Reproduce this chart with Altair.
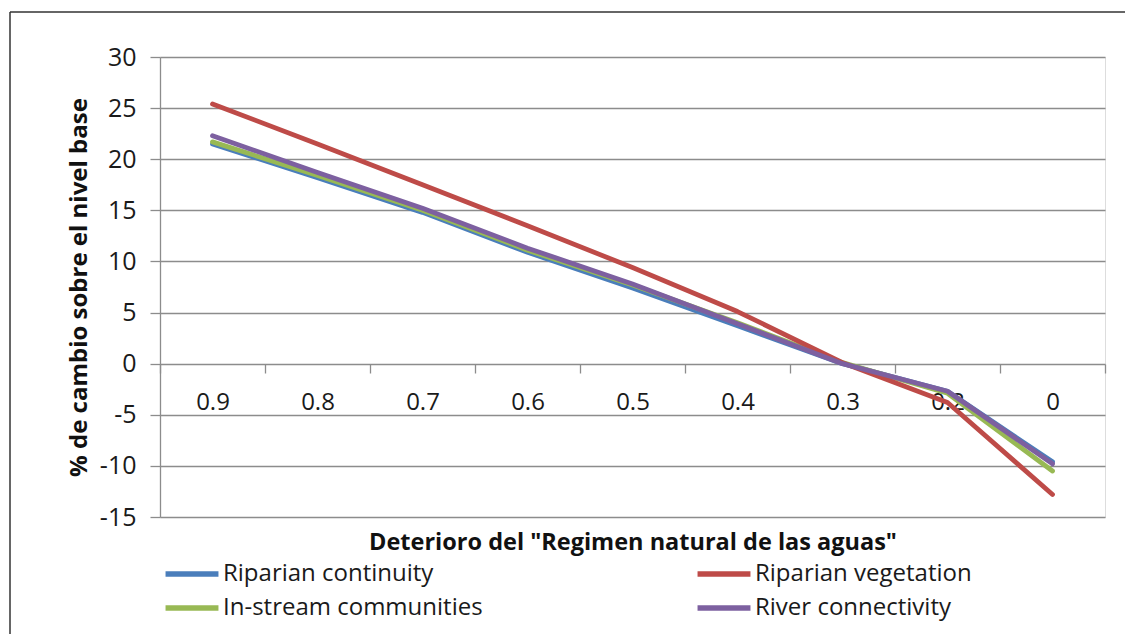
import altair as alt
import pandas as pd

categories = ["0.9", "0.8", "0.7", "0.6", "0.5", "0.4", "0.3", "0.2", "0"]
series_names = ["Riparian continuity", "In-stream communities", "Riparian vegetation", "River connectivity"]
riparian_continuity = [21.5, 18.2, 14.8, 10.9, 7.4, 3.7, 0.0, -2.7, -9.6]
instream_communities = [21.7, 18.4, 15.0, 11.1, 7.7, 4.0, 0.1, -2.9, -10.5]
riparian_vegetation = [25.4, 21.5, 17.5, 13.5, 9.4, 5.1, 0.1, -3.8, -12.8]
river_connectivity = [22.3, 18.7, 15.2, 11.3, 7.8, 3.9, 0.0, -2.7, -9.8]
colors = ["#4A7EBB", "#98B954", "#BE4B48", "#7D60A0"]
y_ticks = [-15, -10, -5, 0, 5, 10, 15, 20, 25, 30]

rows = []
for name, vals in zip(series_names, [riparian_continuity, instream_communities, riparian_vegetation, river_connectivity]):
    for i, (c, v) in enumerate(zip(categories, vals)):
        rows.append({"cat": c, "value": v, "series": name, "order": i})
df = pd.DataFrame(rows)

FONT = "Open Sans"

lines = alt.Chart(df).mark_line(strokeWidth=4.8, strokeCap="round", strokeJoin="round").encode(
    x=alt.X("cat:O", sort=categories, bandPosition=0.5,
            scale=alt.Scale(type="band", paddingInner=0, paddingOuter=0),
            axis=alt.Axis(title='Deterioro del "Regimen natural de las aguas"', offset=-153,
                          tickBand="extent", tickSize=9, tickColor="#8c8c8c", tickWidth=1.3,
                          domain=False, labelAngle=0, labelFontSize=24, labelFont=FONT,
                          labelColor="#1a1a1a", labelPadding=17,
                          titleFont=FONT, titleFontSize=23.5, titleFontWeight="bold",
                          titleColor="#111111", titleY=185, titleBaseline="alphabetic",
                          grid=False)),
    y=alt.Y("value:Q", scale=alt.Scale(domain=[-15, 30], nice=False),
            axis=alt.Axis(title="% de cambio sobre el nivel base", values=y_ticks,
                          labelExpr="'' + datum.value",
                          grid=True, gridColor="#8c8c8c", gridWidth=1.3,
                          domainColor="#8c8c8c", domainWidth=1.3,
                          tickColor="#8c8c8c", tickSize=10, tickWidth=1.3,
                          labelFont=FONT, labelFontSize=25, labelColor="#1a1a1a", labelPadding=14,
                          titleFont=FONT, titleFontSize=24, titleFontWeight="bold",
                          titleColor="#111111", titlePadding=8)),
    color=alt.Color("series:N", sort=series_names,
                    scale=alt.Scale(domain=series_names, range=colors),
                    legend=alt.Legend(title=None, orient="none", legendX=16, legendY=501,
                                      columns=2, columnPadding=203, rowPadding=6,
                                      symbolType="M-2,0H2", symbolSize=700, symbolStrokeWidth=5.5,
                                      labelFont=FONT, labelFontSize=24, labelColor="#1a1a1a",
                                      labelOffset=15, labelLimit=400)),
    detail="series:N",
    order="order:Q",
)

frame_left = alt.Chart(pd.DataFrame({"k": [0]})).mark_rule(color="#333333", strokeWidth=1.5).encode(
    x=alt.value(-150), y=alt.value(-45), y2=alt.value(640))
frame_top = alt.Chart(pd.DataFrame({"k": [0]})).mark_rule(color="#333333", strokeWidth=1.5).encode(
    x=alt.value(-150), x2=alt.value(1000), y=alt.value(-45))

chart = alt.layer(lines, frame_left, frame_top).properties(
    width=945, height=460,
    autosize=alt.AutoSizeParams(type="none"),
    padding={"left": 152, "top": 49, "right": 20, "bottom": 117},
).configure_view(stroke=None).configure(background="white")

chart.save("out.html", embed_options={"renderer": "svg", "actions": False})
